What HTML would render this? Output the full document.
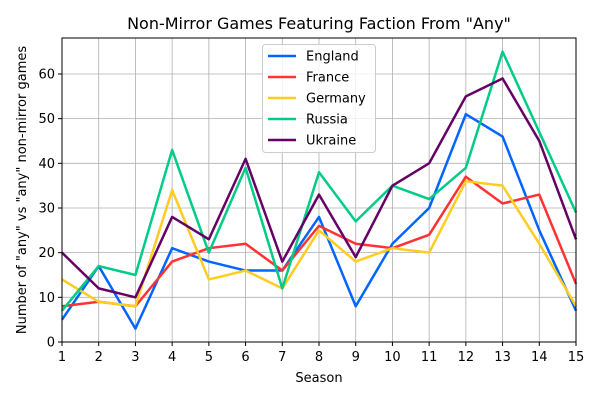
<!DOCTYPE html>
<html><head><meta charset="utf-8"><style>body{margin:0;background:#fff}svg{display:block;font-family:"DejaVu Sans","Liberation Sans",sans-serif}</style></head><body>
<svg width="600" height="400" viewBox="0 0 600 400" xmlns="http://www.w3.org/2000/svg">
<rect width="600" height="400" fill="#fff"/>
<g id="grid" stroke="#b0b0b0" stroke-width="0.8"></g>
<g id="series" fill="none" stroke-width="2.5" stroke-linejoin="round"></g>
<rect x="62" y="38" width="514" height="304" fill="none" stroke="#000" stroke-width="1"/>
<g id="ticks" stroke="#000" stroke-width="1"></g>
<g id="labels" font-size="13" fill="#000"></g>
<text x="319" y="29" font-size="16" text-anchor="middle">Non-Mirror Games Featuring Faction From "Any"</text>
<text x="319" y="382" font-size="13" text-anchor="middle">Season</text>
<text transform="translate(26,190) rotate(-90)" font-size="13" text-anchor="middle">Number of "any" vs "any" non-mirror games</text>
<g id="legend">
<rect x="262.5" y="44.5" width="113" height="108" rx="3" fill="#fff" fill-opacity="0.8" stroke="#ccc"/>
</g>
</svg>
<script>
const X=s=>62+(s-1)*514/14, Y=v=>342-v*4.467;
const ns="http://www.w3.org/2000/svg";
function el(p,t,a,txt){const e=document.createElementNS(ns,t);for(const k in a)e.setAttribute(k,a[k]);if(txt!==undefined)e.textContent=txt;document.getElementById(p).appendChild(e);}
for(let s=1;s<=15;s++){el('grid','line',{x1:X(s),x2:X(s),y1:38,y2:342});el('ticks','line',{x1:X(s),x2:X(s),y1:342,y2:346});el('labels','text',{x:X(s),y:361,'text-anchor':'middle'},s);}
for(let v=0;v<=60;v+=10){el('grid','line',{x1:62,x2:576,y1:Y(v),y2:Y(v)});el('ticks','line',{x1:58,x2:62,y1:Y(v),y2:Y(v)});el('labels','text',{x:55,y:Y(v)+4.5,'text-anchor':'end'},v);}
const D=[["England","#0066ff",[5,17,3,21,18,16,16,28,8,22,30,51,46,25,7]],
["France","#ff3333",[8,9,8,18,21,22,16,26,22,21,24,37,31,33,13]],
["Germany","#ffcc22",[14,9,8,34,14,16,12,25,18,21,20,36,35,22,8]],
["Russia","#00cc88",[7,17,15,43,20,39,12,38,27,35,32,39,65,47,29]],
["Ukraine","#660066",[20,12,10,28,23,41,18,33,19,35,40,55,59,45,23]]];
D.forEach((d,i)=>{el('series','polyline',{stroke:d[1],points:d[2].map((v,j)=>X(j+1)+','+Y(v)).join(' ')});
const y=56+i*21;el('legend','line',{x1:268,x2:296,y1:y,y2:y,stroke:d[1],'stroke-width':2.5});el('legend','text',{x:306,y:y+4.5,'font-size':13},d[0]);});
</script>
</body></html>
